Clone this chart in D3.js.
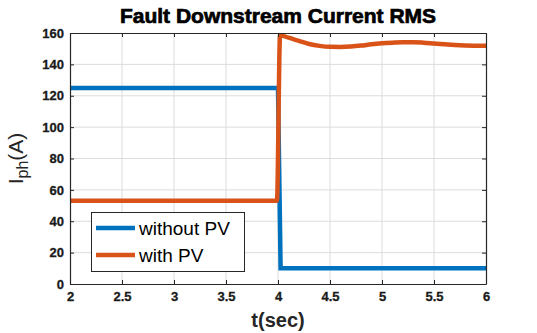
<!DOCTYPE html>
<html>
<head>
<meta charset="utf-8">
<script src="https://cdn.jsdelivr.net/npm/d3@7"></script>
<style>
  body { margin: 0; background: #fff; }
  svg { display: block; }
  text { font-family: "Liberation Sans", Arial, sans-serif; }
</style>
</head>
<body>
<svg id="chart" width="537" height="333"></svg>
<script>
// RMS current downstream of the fault, with and without PV
const timeWithoutPV = [2, 4.0, 4.025, 6];
const currentWithoutPV = [125, 125, 10, 10];

const timeWithPV = [2, 3.99, 4.02, 4.1, 4.2, 4.3, 4.4, 4.5, 4.6, 4.7, 4.8, 4.9, 5.0, 5.1, 5.2, 5.3, 5.4, 5.5, 5.6, 5.7, 5.8, 5.9, 6.0];
const currentWithPV = [53, 53, 158.5, 157, 155, 153, 151.8, 151.2, 151.1, 151.4, 152.0, 152.8, 153.4, 153.8, 154.1, 154.1, 153.8, 153.3, 152.8, 152.4, 152.1, 151.9, 151.8];

const xTicks = [2, 2.5, 3, 3.5, 4, 4.5, 5, 5.5, 6];
const yTicks = [0, 20, 40, 60, 80, 100, 120, 140, 160];
const seriesNames = ["without PV", "with PV"];
const seriesColors = ["#0072BD", "#D95319"];

const svg = d3.select("#chart");
const m = { left: 70, right: 51, top: 33, bottom: 49 };
const W = 537, H = 333;
const x = d3.scaleLinear().domain([2, 6]).range([m.left, W - m.right]);
const y = d3.scaleLinear().domain([0, 160]).range([H - m.bottom, m.top]);

// grid
svg.append("g").selectAll("line").data(xTicks.slice(1, -1)).join("line")
  .attr("x1", d => x(d)).attr("x2", d => x(d))
  .attr("y1", y(0)).attr("y2", y(160))
  .attr("stroke", "#dcdcdc").attr("stroke-width", 1);
svg.append("g").selectAll("line").data(yTicks.slice(1, -1)).join("line")
  .attr("x1", x(2)).attr("x2", x(6))
  .attr("y1", d => y(d)).attr("y2", d => y(d))
  .attr("stroke", "#dcdcdc").attr("stroke-width", 1);

// series
const line = d3.line().x(d => x(d[0])).y(d => y(d[1]));
const dataA = timeWithoutPV.map((t, i) => [t, currentWithoutPV[i]]);
const dataB = timeWithPV.map((t, i) => [t, currentWithPV[i]]);
svg.append("clipPath").attr("id", "plotClip").append("rect")
  .attr("x", x(2)).attr("y", y(160) - 3).attr("width", x(6) - x(2)).attr("height", y(0) - y(160) + 3);
svg.append("path").datum(dataA).attr("d", line)
  .attr("fill", "none").attr("stroke", seriesColors[0]).attr("stroke-width", 4.5)
  .attr("stroke-linejoin", "miter").attr("clip-path", "url(#plotClip)");
svg.append("path").datum(dataB).attr("d", d3.line().x(d => x(d[0])).y(d => y(d[1])).curve(d3.curveMonotoneX))
  .attr("fill", "none").attr("stroke", seriesColors[1]).attr("stroke-width", 4.5)
  .attr("stroke-linejoin", "round").attr("clip-path", "url(#plotClip)");

// axes (box with inward ticks)
const tickLen = 4;
const xAxisB = d3.axisBottom(x).tickValues(xTicks).tickSizeInner(-tickLen).tickSizeOuter(0).tickFormat(d3.format("~g"));
const xAxisT = d3.axisTop(x).tickValues(xTicks).tickSizeInner(-tickLen).tickSizeOuter(0).tickFormat("");
const yAxisL = d3.axisLeft(y).tickValues(yTicks).tickSizeInner(-tickLen).tickSizeOuter(0);
const yAxisR = d3.axisRight(y).tickValues(yTicks).tickSizeInner(-tickLen).tickSizeOuter(0).tickFormat("");

function styleAxis(g) {
  g.select(".domain").attr("stroke", "#262626").attr("stroke-width", 1.2);
  g.selectAll(".tick line").attr("stroke", "#262626");
  g.selectAll(".tick text").attr("fill", "#1a1a1a")
    .style("font-family", "'Liberation Sans', Arial, sans-serif")
    .style("font-weight", "bold").style("font-size", "13px")
    .attr("stroke", "#1a1a1a").attr("stroke-width", 0.3);
}
svg.append("g").attr("transform", `translate(0,${y(0)})`).call(xAxisB).call(styleAxis)
  .selectAll(".tick text").attr("dy", "1.05em");
svg.append("g").attr("transform", `translate(0,${y(160)})`).call(xAxisT).call(styleAxis);
svg.append("g").attr("transform", `translate(${x(2)},0)`).call(yAxisL).call(styleAxis)
  .selectAll(".tick text").attr("x", -6);
svg.append("g").attr("transform", `translate(${x(6)},0)`).call(yAxisR).call(styleAxis);

// title and axis labels
svg.append("text").attr("x", (x(2) + x(6)) / 2).attr("y", 23)
  .attr("text-anchor", "middle").style("font-weight", "bold").style("font-size", "21px")
  .attr("fill", "#000").attr("stroke", "#000").attr("stroke-width", 0.7)
  .text("Fault Downstream Current RMS");
svg.append("text").attr("x", (x(2) + x(6)) / 2).attr("y", 327)
  .attr("text-anchor", "middle").style("font-weight", "bold").style("font-size", "20px")
  .attr("fill", "#262626").text("t(sec)");
const yl = svg.append("text").attr("transform", `translate(23,${(y(0) + y(160)) / 2}) rotate(-90)`)
  .attr("text-anchor", "middle").style("font-size", "21px").attr("fill", "#262626");
yl.append("tspan").text("I");
yl.append("tspan").attr("dy", 5).style("font-size", "16px").text("ph");
yl.append("tspan").attr("dy", -5).text("(A)");

// legend
const lg = svg.append("g");
lg.append("rect").attr("x", 91.5).attr("y", 212.5).attr("width", 153).attr("height", 59)
  .attr("fill", "#fff").attr("stroke", "#262626").attr("stroke-width", 1);
seriesNames.forEach((name, i) => {
  const cy = 228 + i * 27;
  lg.append("line").attr("x1", 96).attr("x2", 135).attr("y1", cy).attr("y2", cy)
    .attr("stroke", seriesColors[i]).attr("stroke-width", 4.5);
  lg.append("text").attr("x", 139).attr("y", cy + 7).style("font-size", "19px")
    .attr("fill", "#000").text(name);
});
</script>
</body>
</html>
